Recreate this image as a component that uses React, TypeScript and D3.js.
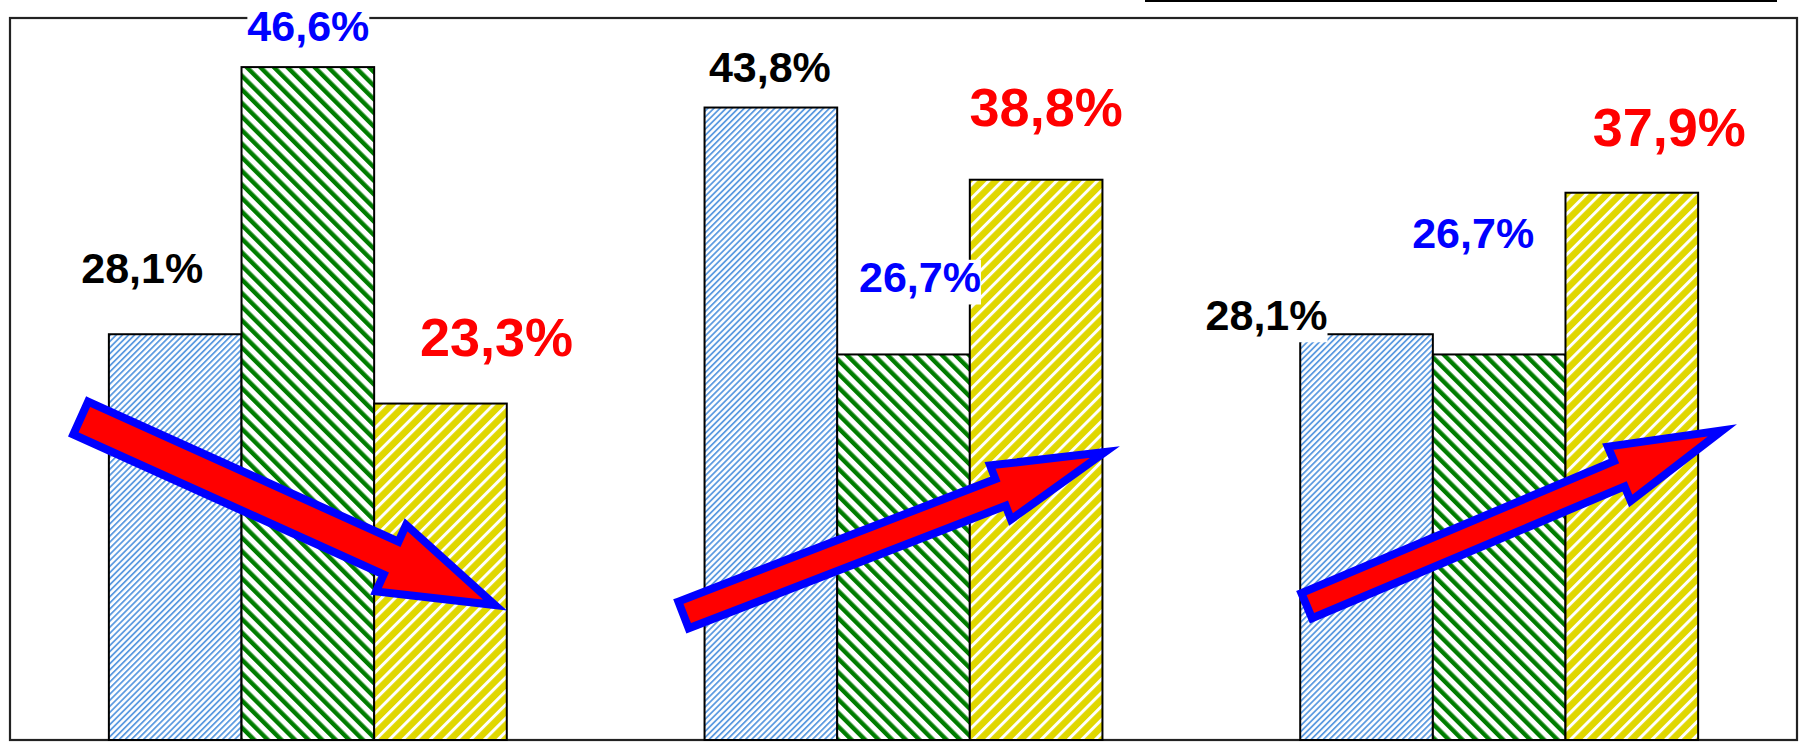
import React, { useEffect, useRef } from "react";
import * as d3 from "d3";

// ---- data ----
const groups = ["G1", "G2", "G3"];
const seriesNames = ["blue", "green", "yellow"];
const seriesBlue = [28.1, 43.8, 28.1];
const seriesGreen = [46.6, 26.7, 26.7];
const seriesYellow = [23.3, 38.8, 37.9];
const labelTexts = [
  ["28,1%", "43,8%", "28,1%"],
  ["46,6%", "26,7%", "26,7%"],
  ["23,3%", "38,8%", "37,9%"],
];

// ---- layout (label offsets relative to bar centre / top, px) ----
const labelDx = [
  [-33, -1, -100],
  [0.5, 16.5, -26],
  [56, 10, 37.5],
];
const labelDy = [
  [-51, -26, -4],
  [-26, -62, -106],
  [-48, -54, -47],
];
const labelColors = ["#000000", "#0000ff", "#ff0000"];
const labelSizes = [43, 43, 54];

// arrows in data coordinates: [group-units x, value y]
const arrows = [
  { from: [0.1187, 22.3], to: [0.8142, 9.35], sw: 36, hw: 73, hl: 114 },
  { from: [1.1307, 8.66], to: [1.8383, 19.94], sw: 28.6, hw: 58, hl: 112 },
  { from: [2.1769, 9.3], to: [2.8749, 21.45], sw: 27.3, hw: 59, hl: 112 },
];

const W = 1800;
const H = 742;

export default function App() {
  const ref = useRef<SVGSVGElement | null>(null);

  useEffect(() => {
    const svg = d3.select(ref.current);
    svg.selectAll("*").remove();

    const left = 10, right = 1797, top = 18, bottom = 740;
    const x0 = d3.scaleBand<string>().domain(groups).range([left, right]).paddingInner(0.332).paddingOuter(0.166);
    const x1 = d3.scaleBand<string>().domain(seriesNames).range([0, x0.bandwidth()]).padding(0);
    const xc = d3.scaleLinear().domain([0, 3]).range([left, right]);
    const y = d3.scaleLinear().domain([0, 50]).range([bottom, top]);

    const defs = svg.append("defs");
    // blue fine stripes "/"
    const pb = defs.append("pattern").attr("id", "pBlue").attr("patternUnits", "userSpaceOnUse")
      .attr("width", 4.3).attr("height", 10).attr("patternTransform", "rotate(45)");
    pb.append("rect").attr("width", 4.3).attr("height", 10).attr("fill", "#ffffff");
    pb.append("rect").attr("x", 0).attr("width", 1.8).attr("height", 10).attr("fill", "#5d9be0");
    // green stripes "\"
    const pg = defs.append("pattern").attr("id", "pGreen").attr("patternUnits", "userSpaceOnUse")
      .attr("width", 9.6).attr("height", 10).attr("patternTransform", "rotate(-45)");
    pg.append("rect").attr("width", 9.6).attr("height", 10).attr("fill", "#ffffff");
    pg.append("rect").attr("x", 0).attr("width", 4.4).attr("height", 10).attr("fill", "#007d00");
    // yellow with white stripes "/"
    const py = defs.append("pattern").attr("id", "pYellow").attr("patternUnits", "userSpaceOnUse")
      .attr("width", 9.6).attr("height", 10).attr("patternTransform", "rotate(45)");
    py.append("rect").attr("width", 9.6).attr("height", 10).attr("fill", "#e0d700");
    py.append("rect").attr("x", 0).attr("width", 3).attr("height", 10).attr("fill", "#ffffff");

    const fills = ["url(#pBlue)", "url(#pGreen)", "url(#pYellow)"];
    const allSeries = [seriesBlue, seriesGreen, seriesYellow];

    svg.append("rect").attr("width", W).attr("height", H).attr("fill", "#ffffff");

    // top partial line (legend border)
    svg.append("line").attr("x1", 1145).attr("x2", 1777).attr("y1", 1).attr("y2", 1)
      .attr("stroke", "#000").attr("stroke-width", 2);

    // frame
    svg.append("rect").attr("x", left).attr("y", top).attr("width", right - left).attr("height", bottom - top)
      .attr("fill", "none").attr("stroke", "#222").attr("stroke-width", 2.2);

    // bars
    const gBars = svg.append("g");
    allSeries.forEach((vals, si) => {
      gBars.selectAll(`rect.s${si}`).data(vals).join("rect")
        .attr("class", `s${si}`)
        .attr("x", (_d, gi) => (x0(groups[gi]) as number) + (x1(seriesNames[si]) as number))
        .attr("y", (d) => y(d))
        .attr("width", x1.bandwidth())
        .attr("height", (d) => y(0) - y(d))
        .attr("fill", fills[si])
        .attr("stroke", "#000")
        .attr("stroke-width", 2);
    });

    // arrows
    const gArr = svg.append("g");
    arrows.forEach((a) => {
      const tx = xc(a.from[0]), ty = y(a.from[1]);
      const hx = xc(a.to[0]), hy = y(a.to[1]);
      const L = Math.hypot(hx - tx, hy - ty);
      const ang = (Math.atan2(hy - ty, hx - tx) * 180) / Math.PI;
      const s = a.sw / 2, h = a.hw / 2, b = L - a.hl;
      const pts: [number, number][] = [[0, -s], [b, -s], [b, -h], [L, 0], [b, h], [b, s], [0, s]];
      gArr.append("path")
        .attr("d", d3.line()(pts) + "Z")
        .attr("transform", `translate(${tx},${ty}) rotate(${ang})`)
        .attr("fill", "#ff0000")
        .attr("stroke", "#0000ff")
        .attr("stroke-width", 8)
        .attr("stroke-linejoin", "miter")
        .attr("stroke-miterlimit", 10);
    });

    // labels
    const gLab = svg.append("g");
    allSeries.forEach((vals, si) => {
      vals.forEach((v, gi) => {
        const cx = (x0(groups[gi]) as number) + (x1(seriesNames[si]) as number) + x1.bandwidth() / 2 + labelDx[si][gi];
        const by = y(v) + labelDy[si][gi];
        const g = gLab.append("g");
        const r = g.append("rect").attr("fill", "#ffffff");
        const t = g.append("text")
          .attr("x", cx).attr("y", by)
          .attr("text-anchor", "middle")
          .attr("font-family", "'Liberation Sans', Arial, sans-serif")
          .attr("font-weight", "bold")
          .attr("font-size", labelSizes[si])
          .attr("fill", labelColors[si])
          .text(labelTexts[si][gi]);
        const bb = (t.node() as SVGTextElement).getBBox();
        r.attr("x", bb.x).attr("y", by - labelSizes[si] * 0.76).attr("width", bb.width)
          .attr("height", labelSizes[si] * 1.04);
      });
    });
  }, []);

  return (
    <svg
      ref={ref}
      width={W}
      height={H}
      style={{ position: "absolute", left: 0, top: 0, display: "block" }}
    />
  );
}
